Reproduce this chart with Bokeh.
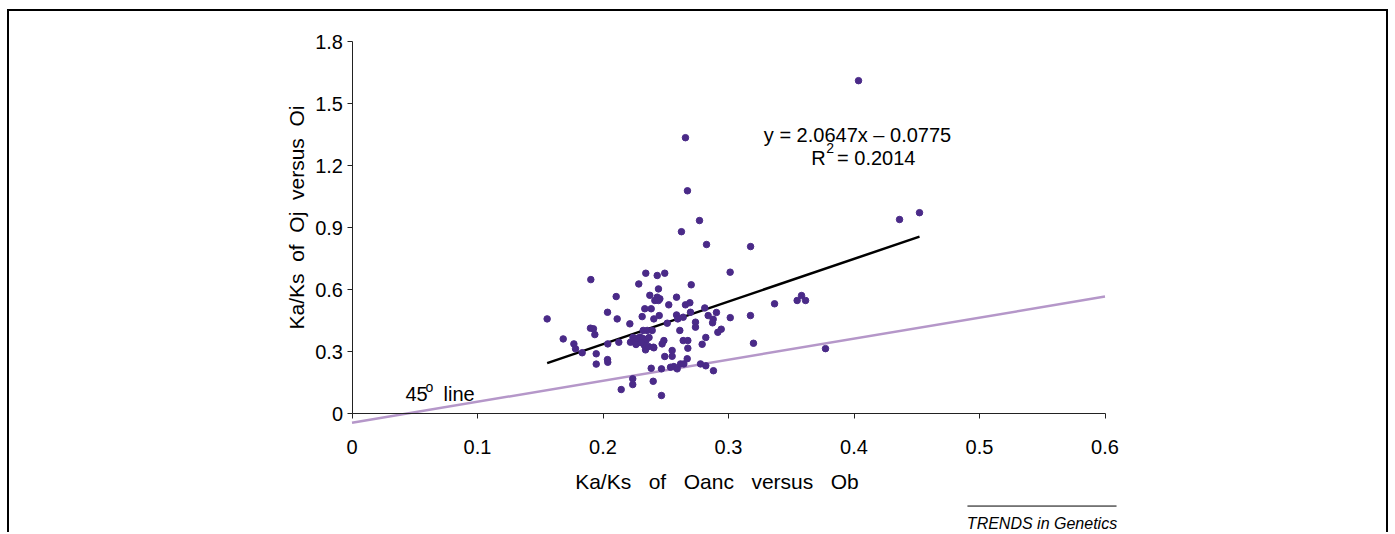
from bokeh.plotting import figure
from bokeh.models import Label, FixedTicker, Arrow
from bokeh.embed import file_html
from bokeh.resources import INLINE

# Ka/Ks of Oanc versus Ob (x) and Ka/Ks of Oj versus Oi (y)
ka_ks_oanc_ob = [
    0.4036, 0.2657, 0.2673, 0.2769, 0.2625, 0.2825, 0.3176, 0.4363, 0.4522, 0.3013,
    0.2811, 0.2838, 0.2904, 0.2878, 0.2873, 0.3014, 0.3175, 0.3367, 0.3547, 0.3582,
    0.3614, 0.2942, 0.2915, 0.2819, 0.2790, 0.3199, 0.3773, 0.2819, 0.2880, 0.2777,
    0.1903, 0.1555, 0.2105, 0.2036, 0.2113, 0.2214, 0.2285, 0.1900, 0.1924, 0.1935,
    0.1683, 0.1768, 0.1781, 0.1834, 0.1946, 0.2038, 0.2126, 0.2219, 0.2245, 0.2259,
    0.2036, 0.2038, 0.1946, 0.2237, 0.2237, 0.2145,
    0.2341, 0.2432, 0.2492, 0.2703, 0.2442, 0.2373, 0.2432, 0.2453, 0.2413, 0.2442,
    0.2586, 0.2524, 0.2657, 0.2692, 0.2333, 0.2384, 0.2312, 0.2448, 0.2405, 0.2586,
    0.2596, 0.2639, 0.2697, 0.2737, 0.2737, 0.2512, 0.2612, 0.2320, 0.2352, 0.2392,
    0.2485, 0.2471, 0.2639, 0.2676, 0.2339, 0.2405, 0.2676, 0.2551, 0.2551, 0.2492,
    0.2671, 0.2384, 0.2466, 0.2564, 0.2591, 0.2538, 0.2618, 0.2644, 0.2400, 0.2466,
    0.2239, 0.2271, 0.2295, 0.2319, 0.2343, 0.2367, 0.2331, 0.2363, 0.2402, 0.2263,
    0.2303,
]
ka_ks_oj_oi = [
    1.611, 1.335, 1.078, 0.934, 0.880, 0.818, 0.808, 0.939, 0.972, 0.684,
    0.511, 0.474, 0.489, 0.456, 0.439, 0.464, 0.474, 0.531, 0.547, 0.571,
    0.547, 0.408, 0.393, 0.368, 0.335, 0.340, 0.314, 0.231, 0.207, 0.240,
    0.648, 0.458, 0.566, 0.490, 0.458, 0.434, 0.627, 0.413, 0.410, 0.382,
    0.361, 0.337, 0.313, 0.294, 0.289, 0.337, 0.345, 0.345, 0.361, 0.345,
    0.261, 0.248, 0.239, 0.168, 0.140, 0.116,
    0.679, 0.668, 0.679, 0.623, 0.603, 0.572, 0.563, 0.555, 0.547, 0.547,
    0.563, 0.526, 0.526, 0.536, 0.507, 0.507, 0.469, 0.474, 0.458, 0.477,
    0.458, 0.466, 0.490, 0.442, 0.418, 0.437, 0.402, 0.402, 0.402, 0.402,
    0.353, 0.337, 0.353, 0.353, 0.308, 0.318, 0.316, 0.305, 0.277, 0.276,
    0.265, 0.219, 0.216, 0.227, 0.216, 0.224, 0.240, 0.240, 0.156, 0.087,
    0.368, 0.363, 0.370, 0.363, 0.353, 0.368, 0.329, 0.324, 0.321, 0.334,
    0.343,
]

# regression trendline y = 2.0647x - 0.0775 over the data's x extent
fit_slope = 2.0647
fit_intercept = -0.0775
fit_x = [min(ka_ks_oanc_ob), max(ka_ks_oanc_ob)]
fit_y = [fit_slope * v + fit_intercept for v in fit_x]

# the "45o line" as drawn in the figure (end points)
ref_x = [0.0, 0.6]
ref_y = [-0.045, 0.566]

x_ticks = [0, 0.1, 0.2, 0.3, 0.4, 0.5, 0.6]
x_tick_labels = ["0", "0.1", "0.2", "0.3", "0.4", "0.5", "0.6"]
y_ticks = [0, 0.3, 0.6, 0.9, 1.2, 1.5, 1.8]
y_tick_labels = ["0", "0.3", "0.6", "0.9", "1.2", "1.5", "1.8"]

x_title = "Ka/Ks of Oanc versus Ob"
y_title = "Ka/Ks of Oj versus Oi"

FONT = "Liberation Sans"
FS = "20px"
NB = "\u00a0"


def spaced(s, extra):
    # wide word spacing as in the original figure
    return (" " + NB * extra).join(s.split(" "))


p = figure(width=1381, height=523, x_range=(-0.27291, 0.82749),
           y_range=(-0.58567, 1.94579),
           output_backend="svg", toolbar_location=None,
           min_border_left=0, min_border_right=0, min_border_top=0,
           min_border_bottom=0)
p.styles = {"border-top": "2px solid black", "border-left": "2px solid black",
            "border-right": "2px solid black", "margin-left": "7px",
            "margin-top": "9px"}
p.outline_line_color = None
p.grid.visible = False
p.background_fill_color = "white"
p.border_fill_color = "white"

p.xaxis.fixed_location = 0
p.yaxis.fixed_location = 0
for ax, ticks, labels in ((p.xaxis, x_ticks, x_tick_labels), (p.yaxis, y_ticks, y_tick_labels)):
    ax.ticker = FixedTicker(ticks=ticks)
    ax.major_label_overrides = {t: l for t, l in zip(ticks, labels)}
    ax.minor_tick_line_color = None
    ax.major_tick_in = 0
    ax.major_tick_out = 5
    ax.axis_line_color = "#222222"
    ax.major_tick_line_color = "#222222"
    ax.major_label_text_font = FONT
    ax.major_label_text_font_size = FS
    ax.major_label_text_color = "black"
p.xaxis.bounds = (0, 0.6)
p.yaxis.bounds = (0, 1.8)
p.xaxis.major_label_standoff = 21
p.yaxis.major_label_standoff = 4

p.line(ref_x, ref_y, line_color="#b597c9", line_width=2.5)
p.line(fit_x, fit_y, line_color="black", line_width=2.5)
p.scatter(ka_ks_oanc_ob, ka_ks_oj_oi, size=6.5, fill_color="#4a2a88",
          line_color="#4a2a88")

# axis titles
p.add_layout(Label(x=0.2908, y=-0.3291, text=spaced(x_title, 2),
                   text_align="center", text_baseline="alphabetic",
                   text_font=FONT, text_font_size="21px", text_color="black"))
p.add_layout(Label(x=-0.0442, y=0.9487, text=spaced(y_title, 1),
                   angle=90, angle_units="deg",
                   text_align="center", text_baseline="middle",
                   text_font=FONT, text_font_size="21px", text_color="black"))

p.add_layout(Label(x=0.4028, y=1.3456, text="y = 2.0647x \u2013 0.0775",
                   text_align="center", text_baseline="alphabetic",
                   text_font=FONT, text_font_size=FS, text_color="black"))
p.add_layout(Label(x=0.3659, y=1.2386, text="R", text_align="left",
                   text_baseline="alphabetic", text_font=FONT,
                   text_font_size=FS, text_color="black"))
p.add_layout(Label(x=0.3779, y=1.2866, text="2", text_align="left",
                   text_baseline="alphabetic", text_font=FONT,
                   text_font_size="14px", text_color="black"))
p.add_layout(Label(x=0.3865, y=1.2386, text="= 0.2014", text_align="left",
                   text_baseline="alphabetic", text_font=FONT,
                   text_font_size=FS, text_color="black"))
p.add_layout(Label(x=0.0426, y=0.0968, text="45", text_align="left",
                   text_baseline="alphabetic", text_font=FONT,
                   text_font_size=FS, text_color="black"))
p.add_layout(Label(x=0.0586, y=0.126, text="o", text_align="left",
                   text_baseline="alphabetic", text_font=FONT,
                   text_font_size="14px", text_color="black"))
p.add_layout(Label(x=0.0729, y=0.0968, text="line", text_align="left",
                   text_baseline="alphabetic", text_font=FONT,
                   text_font_size=FS, text_color="black"))

p.add_layout(Label(x=0.5498, y=-0.532, text="TRENDS in Genetics",
                   text_align="center", text_baseline="alphabetic",
                   text_font=FONT, text_font_size="16px",
                   text_font_style="italic", text_color="black"))
p.add_layout(Arrow(end=None, start=None, x_start=0.4904, y_start=-0.448,
                   x_end=0.6092, y_end=-0.448, line_width=1,
                   line_color="black"))

open("out.html", "w").write(file_html(p, INLINE))
